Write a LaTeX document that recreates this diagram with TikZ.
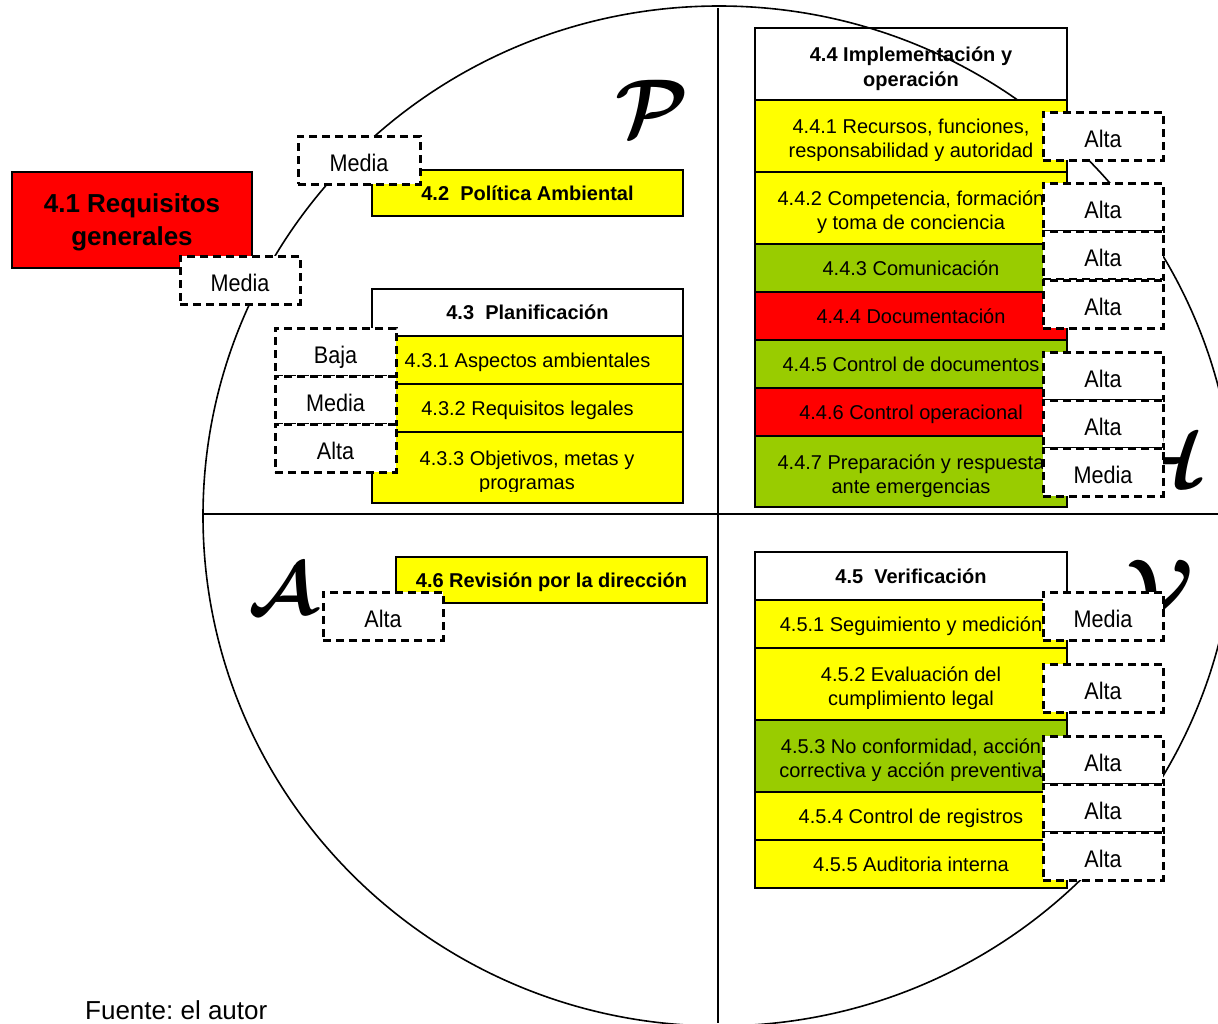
\documentclass[tikz,border=0pt]{standalone}
\usepackage{fontspec}
\setmainfont{Liberation Sans}
\newfontfamily\ratefont[FakeStretch=0.9]{Liberation Sans}
\frenchspacing
\definecolor{xyellow}{HTML}{FFFF00}
\definecolor{xred}{HTML}{FF0000}
\definecolor{xgreen}{HTML}{99CC00}
\newcommand\phvaglyph[2]{\scalebox{#1}{\fontencoding{OMS}\fontfamily{cmsy}\fontseries{b}\fontshape{n}\fontsize{10}{12}\selectfont #2}}
\tikzset{
  cell/.style={draw=black, line width=1.8pt, anchor=north west, inner sep=0pt, outer sep=0pt,
     font=\fontsize{20}{24}\selectfont, text height=14pt, text depth=0pt},
  hcell/.style={cell, font=\fontsize{20}{24}\selectfont\bfseries},
  ctext/.style={anchor=base, inner sep=0pt, font=\fontsize{20}{24}\selectfont},
  htext/.style={anchor=base, inner sep=0pt, font=\fontsize{20}{24}\selectfont\bfseries},
  bigtext/.style={anchor=base, inner sep=0pt, font=\fontsize{26}{30}\selectfont\bfseries},
  rate/.style={draw=black, line width=3pt, dash pattern=on 8pt off 5pt, fill=white,
     anchor=north west, inner sep=0pt, outer sep=0pt, minimum width=120pt, minimum height=48pt,
     font=\ratefont\fontsize{24}{28}\selectfont, text height=22pt, text depth=0pt},
  phvamark/.style={inner sep=0pt},
  axisline/.style={line width=1.6pt},
  ringline/.style={line width=1.6pt},
}
\begin{document}
\begin{tikzpicture}[x=1pt,y=-1pt]
\useasboundingbox (0,0) rectangle (1218,1023);
\clip (0,0) rectangle (1218,1023);
% cycle
\draw[ringline] (719,516) ellipse [x radius=516pt, y radius=510pt];
\coordinate (vtop) at (718,8);
\coordinate (vbot) at (718,1023);
\coordinate (hleft) at (204,514);
\coordinate (hright) at (1218,514);
\draw[axisline] (vtop) -- (vbot);
\draw[axisline] (hleft) -- (hright);
% PHVA letters
\node[phvamark] (letP) at (649,108) {\phvaglyph{8.2}{P}};
\node[phvamark] (letH) at (1166,458) {\phvaglyph{8.2}{H}};
\node[phvamark] (letV) at (1157,588) {\phvaglyph{8.2}{V}};
\node[phvamark] (letA) at (283,589) {\phvaglyph{7.4}{A}};
% 4.1
\node[cell, fill=xred, minimum width=240pt, minimum height=96pt] (c41) at (12,172) {};
\node[bigtext] (t41a) at (132,212) {4.1 Requisitos};
\node[bigtext] (t41b) at (132,245) {generales};
% 4.2
\node[hcell, fill=xyellow, minimum width=311pt, minimum height=46pt] (c42) at (372,170) {4.2~~Política Ambiental};
% 4.3
\node[hcell, fill=white, minimum width=311pt, minimum height=47pt] (c43) at (372,289) {4.3~~Planificación};
\node[cell, fill=xyellow, minimum width=311pt, minimum height=48pt] (c431) at (372,336) {4.3.1 Aspectos ambientales};
\node[cell, fill=xyellow, minimum width=311pt, minimum height=48pt] (c432) at (372,384) {4.3.2 Requisitos legales};
\node[cell, fill=xyellow, minimum width=311pt, minimum height=71pt] (c433) at (372,432) {};
\node[ctext] (t433a) at (527,465) {4.3.3 Objetivos, metas y};
\begin{scope}
\clip (372,432) rectangle (683,491.5);
\node[ctext] (t433b) at (527,489) {programas};
\end{scope}
% 4.4
\node[cell, minimum width=312pt, minimum height=72pt] (c44) at (755,28) {};
\node[htext] (t44a) at (911,61) {4.4 Implementación y};
\node[htext] (t44b) at (911,86) {operación};
\node[cell, fill=xyellow, minimum width=312pt, minimum height=72pt] (c441) at (755,100) {};
\node[ctext] (t441a) at (911,133) {4.4.1 Recursos, funciones,};
\begin{scope}
\clip (755,100) rectangle (1067,160.5);
\node[ctext] (t441b) at (911,157) {responsabilidad y autoridad};
\end{scope}
\node[cell, fill=xyellow, minimum width=312pt, minimum height=72pt] (c442) at (755,172) {};
\node[ctext] (t442a) at (911,205) {4.4.2 Competencia, formación};
\begin{scope}
\clip (755,172) rectangle (1067,232.5);
\node[ctext] (t442b) at (911,229) {y toma de conciencia};
\end{scope}
\node[cell, fill=xgreen, minimum width=312pt, minimum height=48pt] (c443) at (755,244) {4.4.3 Comunicación};
\node[cell, fill=xred, minimum width=312pt, minimum height=48pt] (c444) at (755,292) {4.4.4 Documentación};
\node[cell, fill=xgreen, minimum width=312pt, minimum height=48pt] (c445) at (755,340) {4.4.5 Control de documentos};
\node[cell, fill=xred, minimum width=312pt, minimum height=48pt] (c446) at (755,388) {4.4.6 Control operacional};
\node[cell, fill=xgreen, minimum width=312pt, minimum height=71pt] (c447) at (755,436) {};
\node[ctext] (t447a) at (911,469) {4.4.7 Preparación y respuesta};
\begin{scope}
\clip (755,436) rectangle (1067,496.5);
\node[ctext] (t447b) at (911,493) {ante emergencias};
\end{scope}
% 4.5
\node[hcell, fill=white, minimum width=312pt, minimum height=48pt] (c45) at (755,552) {4.5~~Verificación};
\node[cell, fill=xyellow, minimum width=312pt, minimum height=48pt] (c451) at (755,600) {4.5.1 Seguimiento y medición};
\node[cell, fill=xyellow, minimum width=312pt, minimum height=72pt] (c452) at (755,648) {};
\node[ctext] (t452a) at (911,681) {4.5.2 Evaluación del};
\begin{scope}
\clip (755,648) rectangle (1067,708.5);
\node[ctext] (t452b) at (911,705) {cumplimiento legal};
\end{scope}
\node[cell, fill=xgreen, minimum width=312pt, minimum height=72pt] (c453) at (755,720) {};
\node[ctext] (t453a) at (911,753) {4.5.3 No conformidad, acción};
\begin{scope}
\clip (755,720) rectangle (1067,780.5);
\node[ctext] (t453b) at (911,777) {correctiva y acción preventiva};
\end{scope}
\node[cell, fill=xyellow, minimum width=312pt, minimum height=48pt] (c454) at (755,792) {4.5.4 Control de registros};
\node[cell, fill=xyellow, minimum width=312pt, minimum height=48pt] (c455) at (755,840) {4.5.5 Auditoria interna};
% 4.6
\node[hcell, fill=xyellow, minimum width=311pt, minimum height=46pt] (c46) at (396,557) {4.6 Revisión por la dirección};
% ratings
\node[rate, minimum width=122pt] (r42) at (298,136) {Media};
\node[rate] (r41) at (180,256) {Media};
\node[rate, minimum width=121pt] (r431) at (275,328) {Baja};
\node[rate, minimum width=121pt] (r432) at (275,376) {Media};
\node[rate, minimum width=121pt] (r433) at (275,424) {Alta};
\node[rate] (r46) at (323,592) {Alta};
\node[rate] (r441) at (1043,112) {Alta};
\node[rate] (r442) at (1043,183) {Alta};
\node[rate] (r443) at (1043,231) {Alta};
\node[rate] (r444) at (1043,280) {Alta};
\node[rate] (r445) at (1043,352) {Alta};
\node[rate] (r446) at (1043,400) {Alta};
\node[rate] (r447) at (1043,448) {Media};
\node[rate] (r451) at (1043,592) {Media};
\node[rate] (r452) at (1043,664) {Alta};
\node[rate] (r453) at (1043,736) {Alta};
\node[rate] (r454) at (1043,784) {Alta};
\node[rate] (r455) at (1043,832) {Alta};
% source
\node[anchor=base west, inner sep=0pt, font=\fontsize{26}{30}\selectfont] (src) at (85,1019) {Fuente: el autor};
\end{tikzpicture}
\end{document}
